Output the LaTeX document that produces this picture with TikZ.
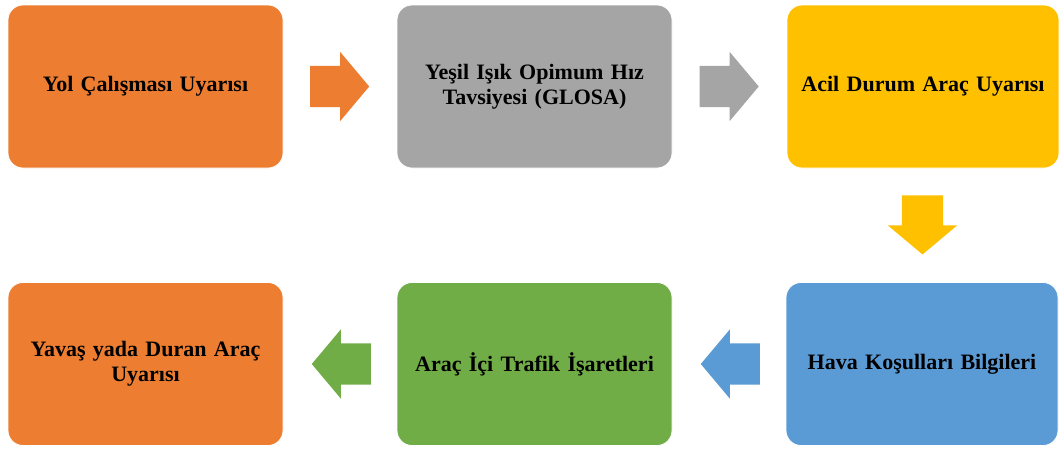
\documentclass[tikz,border=0pt]{standalone}
\usepackage{fontspec}
\setmainfont{Liberation Serif}
\usetikzlibrary{shapes.arrows,calc}

\definecolor{turuncu}{HTML}{ED7D31}
\definecolor{gri}{HTML}{A5A5A5}
\definecolor{sari}{HTML}{FFC000}
\definecolor{mavi}{HTML}{5B9BD5}
\definecolor{yesil}{HTML}{70AD47}

\tikzset{
    kutu/.style={rounded corners=15pt,draw=white,line width=0.8pt,minimum width=275pt,
        minimum height=163pt,align=center,text width=250pt,
        font=\fontsize{22}{25}\selectfont\bfseries},
    ok/.style={single arrow,draw=none,minimum height=59pt,anchor=tail,
        single arrow head extend=14pt,single arrow tip angle=100,
        inner xsep=0pt,inner ysep=20.5pt},
    asagiok/.style={ok,shape border rotate=270,inner xsep=20.5pt,inner ysep=0pt}
}

\begin{document}
\begin{tikzpicture}[x=1pt,y=-1pt]
            \fill[white] (0,0) rectangle (1059,450);
            \useasboundingbox (0,0) rectangle (1059,450);
            % ust sira
            \node[kutu,fill=turuncu] (yol) at (145.5,86.5) {Yol Çalışması Uyarısı};
            \node[kutu,fill=gri] (glosa) at (534.5,86.5) {Yeşil Işık Opimum Hız\\Tavsiyesi (GLOSA)};
            \node[kutu,fill=sari,minimum width=272pt] (acil) at (923,86.5) {Acil Durum Araç Uyarısı};
            % alt sira
            \node[kutu,fill=mavi,minimum width=272pt] (hava) at (922,364) {Hava Koşulları Bilgileri};
            \node[kutu,fill=yesil] (icsi) at (534.5,364) {Araç İçi Trafik İşaretleri};
            \node[kutu,fill=turuncu] (yavas) at (145.5,364) {Yavaş yada Duran Araç\\Uyarısı};
            % oklar
            \node[ok,fill=turuncu] (o1) at ($(yol.east)!0.5!(glosa.west)+(-30,0)$) {};
            \node[ok,fill=gri] (o2) at ($(glosa.east)!0.5!(acil.west)+(-30,0)$) {};
            \node[asagiok,fill=sari] (o3) at ($(acil.south)!0.5!(hava.north)+(0,-30)$) {};
            \node[ok,fill=mavi,shape border rotate=180] (o4) at ($(hava.west)!0.5!(icsi.east)+(31,0)$) {};
            \node[ok,fill=yesil,shape border rotate=180] (o5) at ($(icsi.west)!0.5!(yavas.east)+(31,0)$) {};
\end{tikzpicture}
\end{document}
